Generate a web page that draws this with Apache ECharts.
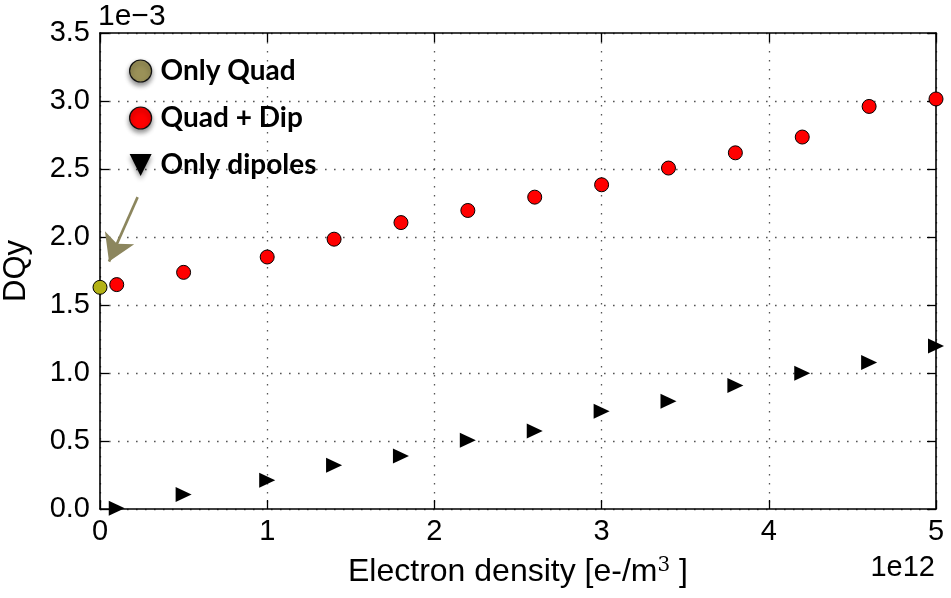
<!DOCTYPE html>
<html>
<head>
<meta charset="utf-8">
<script src="https://cdn.jsdelivr.net/npm/echarts@6/dist/echarts.min.js"></script>
<style>
  html, body { margin: 0; padding: 0; background: #fff; }
  #chart { width: 951px; height: 598px; }
</style>
</head>
<body>
<div id="chart"></div>
<script>
// Electron density in units of 1e12 e-/m^3, tune shift DQy in units of 1e-3
const densityOnlyQuad = [0.0];
const dqyOnlyQuad = [1.63];

const densityQuadDip = [0.1, 0.5, 1.0, 1.4, 1.8, 2.2, 2.6, 3.0, 3.4, 3.8, 4.2, 4.6, 5.0];
const dqyQuadDip = [1.65, 1.74, 1.853, 1.984, 2.106, 2.195, 2.293, 2.384, 2.507, 2.619, 2.735, 2.96, 3.015];

const densityDipoles = [0.1, 0.5, 1.0, 1.4, 1.8, 2.2, 2.6, 3.0, 3.4, 3.8, 4.2, 4.6, 5.0];
const dqyDipoles = [0.005, 0.106, 0.211, 0.322, 0.39, 0.506, 0.574, 0.719, 0.793, 0.909, 0.999, 1.078, 1.198];

const xTicks = [0, 1, 2, 3, 4, 5];
const yTicks = [0.0, 0.5, 1.0, 1.5, 2.0, 2.5, 3.0, 3.5];

// annotation arrow pointing at the quadrupole-only point
const arrowFrom = [0.225, 2.293];
const arrowTo = [0.054, 1.819];

const pairs = (xs, ys) => xs.map((x, i) => [x, ys[i]]);

const FONT = '"Liberation Sans", Arial, Helvetica, sans-serif';
const LEGEND_FONT = 'Lato, "Open Sans", sans-serif';

const chart = echarts.init(document.getElementById('chart'), null, { renderer: 'canvas' });

const axisLine = () => ({ show: true, onZero: false, lineStyle: { color: '#000', width: 1.6 } });
const tickIn = () => ({ show: true, inside: true, length: 9, lineStyle: { color: '#000', width: 1.3 } });
const dotted = () => ({ show: true, lineStyle: { color: '#555', width: 1.3, type: [1.6, 7.4] } });

chart.setOption({
  animation: false,
  backgroundColor: '#fff',
  grid: { left: 100, right: 15, top: 33, bottom: 89, containLabel: false, outerBoundsMode: 'none' },
  xAxis: [
    {
      type: 'value', min: xTicks[0], max: xTicks[xTicks.length - 1], interval: 1,
      position: 'bottom',
      axisLine: axisLine(), axisTick: tickIn(), splitLine: dotted(),
      axisLabel: { color: '#000', fontSize: 29, fontFamily: FONT, margin: 8 },
      name: '{a|Electron density [e-/m}{s|3}{a| ]}',
      nameLocation: 'middle', nameGap: 47,
      nameTextStyle: {
        color: '#000', fontSize: 32, fontFamily: FONT,
        rich: {
          a: { color: '#000', fontSize: 32, fontFamily: FONT },
          s: { color: '#000', fontSize: 20, fontFamily: '"DejaVu Serif", serif', verticalAlign: 'top' }
        }
      }
    },
    {
      type: 'value', min: xTicks[0], max: xTicks[xTicks.length - 1], interval: 1,
      position: 'top',
      axisLine: axisLine(), axisTick: tickIn(), splitLine: { show: false },
      axisLabel: { show: false }
    }
  ],
  yAxis: [
    {
      type: 'value', min: yTicks[0], max: yTicks[yTicks.length - 1], interval: 0.5,
      position: 'left',
      axisLine: axisLine(), axisTick: tickIn(), splitLine: dotted(),
      axisLabel: { color: '#000', fontSize: 29, fontFamily: FONT, margin: 10,
                   formatter: v => v.toFixed(1) },
      name: 'DQy', nameLocation: 'middle', nameRotate: 90, nameGap: 68,
      nameTextStyle: { color: '#000', fontSize: 31, fontFamily: FONT }
    },
    {
      type: 'value', min: yTicks[0], max: yTicks[yTicks.length - 1], interval: 0.5,
      position: 'right',
      axisLine: axisLine(), axisTick: tickIn(), splitLine: { show: false },
      axisLabel: { show: false }
    }
  ],
  legend: {
    orient: 'vertical', left: 129, top: 57, padding: 0,
    itemWidth: 22, itemHeight: 22, itemGap: 19,
    selectedMode: false,
    textStyle: { color: '#000', fontSize: 28, fontWeight: 'bold', fontFamily: LEGEND_FONT,
                 lineHeight: 22, padding: [0, 0, 0, 4] },
    data: [
      { name: 'Only Quad', icon: 'circle',
        itemStyle: { color: '#9a9158', borderColor: '#111', borderWidth: 1.2,
                     shadowBlur: 5, shadowOffsetY: 3, shadowColor: 'rgba(0,0,0,0.45)' } },
      { name: 'Quad + Dip', icon: 'circle',
        itemStyle: { color: '#ff0000', borderColor: '#111', borderWidth: 1.2,
                     shadowBlur: 5, shadowOffsetY: 3, shadowColor: 'rgba(0,0,0,0.45)' } },
      { name: 'Only dipoles', icon: 'path://M0,0 L10,0 L5,10 Z',
        itemStyle: { color: '#000', borderWidth: 0,
                     shadowBlur: 5, shadowOffsetY: 3, shadowColor: 'rgba(0,0,0,0.45)' } }
    ]
  },
  graphic: [
    { type: 'text', left: 98, top: 2,
      style: { text: '1e\u22123', fill: '#000', font: '30px ' + FONT } },
    { type: 'text', right: 16, top: 553,
      style: { text: '1e12', fill: '#000', font: '29px ' + FONT } }
  ],
  series: [
    {
      name: 'Quad + Dip', type: 'scatter', z: 3,
      symbol: 'circle', symbolSize: 14,
      itemStyle: { color: '#ff0000', borderColor: '#000', borderWidth: 1, opacity: 1 },
      data: pairs(densityQuadDip, dqyQuadDip)
    },
    {
      name: 'Only dipoles', type: 'scatter', z: 3,
      symbol: 'triangle', symbolRotate: -90, symbolSize: [15, 16],
      itemStyle: { color: '#000', opacity: 1 },
      data: pairs(densityDipoles, dqyDipoles)
    },
    {
      name: 'Only Quad', type: 'scatter', z: 2,
      symbol: 'circle', symbolSize: 14,
      itemStyle: { color: '#b3b215', borderColor: '#000', borderWidth: 1, opacity: 1 },
      data: pairs(densityOnlyQuad, dqyOnlyQuad),
      markLine: {
        silent: true, animation: false,
        symbol: ['none', 'arrow'], symbolSize: [24, 26],
        label: { show: false },
        lineStyle: { color: '#8c865e', width: 2.6, type: 'solid' },
        data: [[{ coord: arrowFrom }, { coord: arrowTo }]]
      }
    }
  ]
});
</script>
</body>
</html>
